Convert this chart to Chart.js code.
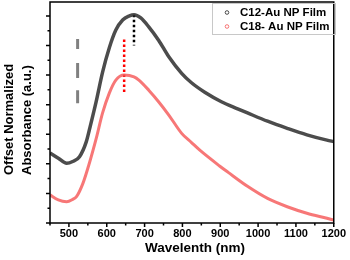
<!DOCTYPE html>
<html>
<head>
<meta charset="utf-8">
<script src="https://cdn.jsdelivr.net/npm/chart.js@4.4.0/dist/chart.umd.min.js"></script>
<style>
  html, body { margin: 0; padding: 0; background: #fff; }
  #wrap { width: 350px; height: 260px; }
</style>
</head>
<body>
<div id="wrap"><canvas id="absChart" width="350" height="260"></canvas></div>
<script>
// values
const c12Wl  = [450, 472, 494, 510, 528, 546, 556, 572, 589, 607, 624, 642, 660, 672, 690, 711, 737, 764, 798, 824, 859, 903, 946, 972, 1025, 1077, 1129, 1182, 1200];
const c12Abs = [2.37, 2.19, 2.02, 2.08, 2.24, 2.75, 3.25, 4.10, 5.10, 5.93, 6.52, 6.86, 7.00, 7.04, 6.93, 6.63, 6.18, 5.62, 5.06, 4.74, 4.42, 4.10, 3.86, 3.72, 3.44, 3.20, 2.98, 2.80, 2.75];

const c18Wl  = [450, 472, 494, 510, 520, 537, 554, 572, 589, 607, 624, 646, 672, 685, 711, 737, 764, 798, 824, 846, 899, 920, 973, 1025, 1077, 1129, 1182, 1200];
const c18Abs = [0.95, 0.78, 0.72, 0.80, 0.89, 1.34, 2.02, 2.85, 3.72, 4.40, 4.83, 5.00, 4.94, 4.83, 4.49, 4.10, 3.65, 3.03, 2.72, 2.46, 1.92, 1.72, 1.23, 0.83, 0.55, 0.33, 0.16, 0.10];

// peak markers and the grey guide
const peakC12Wl = [672, 672];
const peakC12Abs = [7.04, 6.0];
const peakC18Wl = [646, 646];
const peakC18Abs = [6.2, 4.43];
const guideWl = [523, 523, 523, 523, 523, 523, 523, 523];
const guideAbs = [6.22, 5.88, null, 5.41, 4.90, null, 4.49, 4.05];

const seriesLabels = ['C12-Au NP Film', 'C18- Au NP Film'];
const xMajorTicks = [500, 600, 700, 800, 900, 1000, 1100, 1200];
const xMinorTicks = [450, 550, 650, 750, 850, 950, 1050, 1150];
const yMajorTicks = [0, 1, 2, 3, 4, 5, 6, 7];
const yMinorTicks = [0.5, 1.5, 2.5, 3.5, 4.5, 5.5, 6.5];

const FONT = '"Liberation Sans", Arial, sans-serif';

const toPoints = (xs, ys) => xs.map((x, i) => ({ x: x, y: ys[i] }));

const framePlugin = {
    id: 'frame',
    afterDraw(chart) {
        const { ctx, chartArea: a, scales } = chart;
        ctx.save();
        ctx.strokeStyle = '#000';
        ctx.lineWidth = 1.5;
        ctx.strokeRect(a.left, a.top, a.right - a.left, a.bottom - a.top);

        // tick marks
        ctx.beginPath();
        xMajorTicks.forEach(v => {
            const px = scales.x.getPixelForValue(v);
            ctx.moveTo(px, a.bottom); ctx.lineTo(px, a.bottom + 4);
        });
        xMinorTicks.forEach(v => {
            const px = scales.x.getPixelForValue(v);
            ctx.moveTo(px, a.bottom); ctx.lineTo(px, a.bottom + 2.5);
        });
        yMajorTicks.forEach(v => {
            const py = scales.y.getPixelForValue(v);
            ctx.moveTo(a.left, py); ctx.lineTo(a.left - 4, py);
        });
        yMinorTicks.forEach(v => {
            const py = scales.y.getPixelForValue(v);
            ctx.moveTo(a.left, py); ctx.lineTo(a.left - 2.5, py);
        });
        ctx.stroke();

        // axis titles
        ctx.fillStyle = '#000';
        ctx.font = 'bold 13.5px ' + FONT;
        ctx.textAlign = 'center';
        ctx.textBaseline = 'middle';
        ctx.fillText('Wavelenth (nm)', 195, 248);

        ctx.save();
        ctx.font = 'bold 13px ' + FONT;
        ctx.translate(0, 175);
        ctx.rotate(-Math.PI / 2);
        ctx.textAlign = 'left';
        ctx.fillText('Offset Normalized', 0, 9);
        ctx.fillText('Absorbance (a.u.)', 0, 27);
        ctx.restore();

        // legend
        ctx.strokeStyle = '#c8c8c8';
        ctx.lineWidth = 1;
        ctx.strokeRect(212.5, 3.5, 123, 31);
        ctx.font = 'bold 11.5px ' + FONT;
        ctx.textAlign = 'left';
        const rows = [12.5, 26.5];
        [0, 1].forEach(i => {
            const ds = chart.data.datasets[i];
            ctx.beginPath();
            ctx.strokeStyle = ds.borderColor;
            ctx.lineWidth = 1;
            ctx.arc(227, rows[i], 1.8, 0, Math.PI * 2);
            ctx.stroke();
            ctx.fillStyle = '#000';
            ctx.fillText(seriesLabels[i], 240, rows[i] + 0.5);
        });
        ctx.restore();
    }
};

new Chart(document.getElementById('absChart'), {
    type: 'line',
    data: {
        datasets: [
            {
                label: seriesLabels[0],
                data: toPoints(c12Wl, c12Abs),
                borderColor: 'rgba(45,45,45,0.85)',
                borderWidth: 3.5,
                pointRadius: 0,
                cubicInterpolationMode: 'monotone',
            },
            {
                label: seriesLabels[1],
                data: toPoints(c18Wl, c18Abs),
                borderColor: 'rgba(245,85,85,0.8)',
                borderWidth: 3,
                pointRadius: 0,
                cubicInterpolationMode: 'monotone',
            },
            {
                label: 'C12 peak',
                data: toPoints(peakC12Wl, peakC12Abs),
                borderColor: '#000',
                borderWidth: 2.5,
                borderDash: [2.5, 2.5],
                pointRadius: 0,
            },
            {
                label: 'C18 peak',
                data: toPoints(peakC18Wl, peakC18Abs),
                borderColor: '#ff0000',
                borderWidth: 2.5,
                borderDash: [2.5, 2.5],
                pointRadius: 0,
            },
            {
                label: 'guide',
                data: toPoints(guideWl, guideAbs),
                borderColor: '#808080',
                borderWidth: 3,
                pointRadius: 0,
                spanGaps: false,
            },
        ],
    },
    options: {
        responsive: false,
        animation: false,
        events: [],
        layout: { padding: { top: 2, right: 13, left: 0, bottom: 0 } },
        plugins: {
            legend: { display: false },
            tooltip: { enabled: false },
        },
        scales: {
            x: {
                type: 'linear',
                min: 450,
                max: 1200,
                grid: { display: false, drawTicks: false },
                border: { display: false },
                afterBuildTicks: (scale) => { scale.ticks = xMajorTicks.map(v => ({ value: v })); },
                afterFit: (scale) => { scale.height = 37; },
                ticks: {
                    padding: 4,
                    color: '#000',
                    maxRotation: 0,
                    autoSkip: false,
                    callback: (v) => String(v),
                    font: { family: FONT, size: 11, weight: 'bold' },
                },
            },
            y: {
                type: 'linear',
                min: 0,
                max: 7.47,
                grid: { display: false, drawTicks: false },
                border: { display: false },
                ticks: { display: false },
                afterFit: (scale) => { scale.width = 50; },
            },
        },
    },
    plugins: [framePlugin],
});
</script>
</body>
</html>
